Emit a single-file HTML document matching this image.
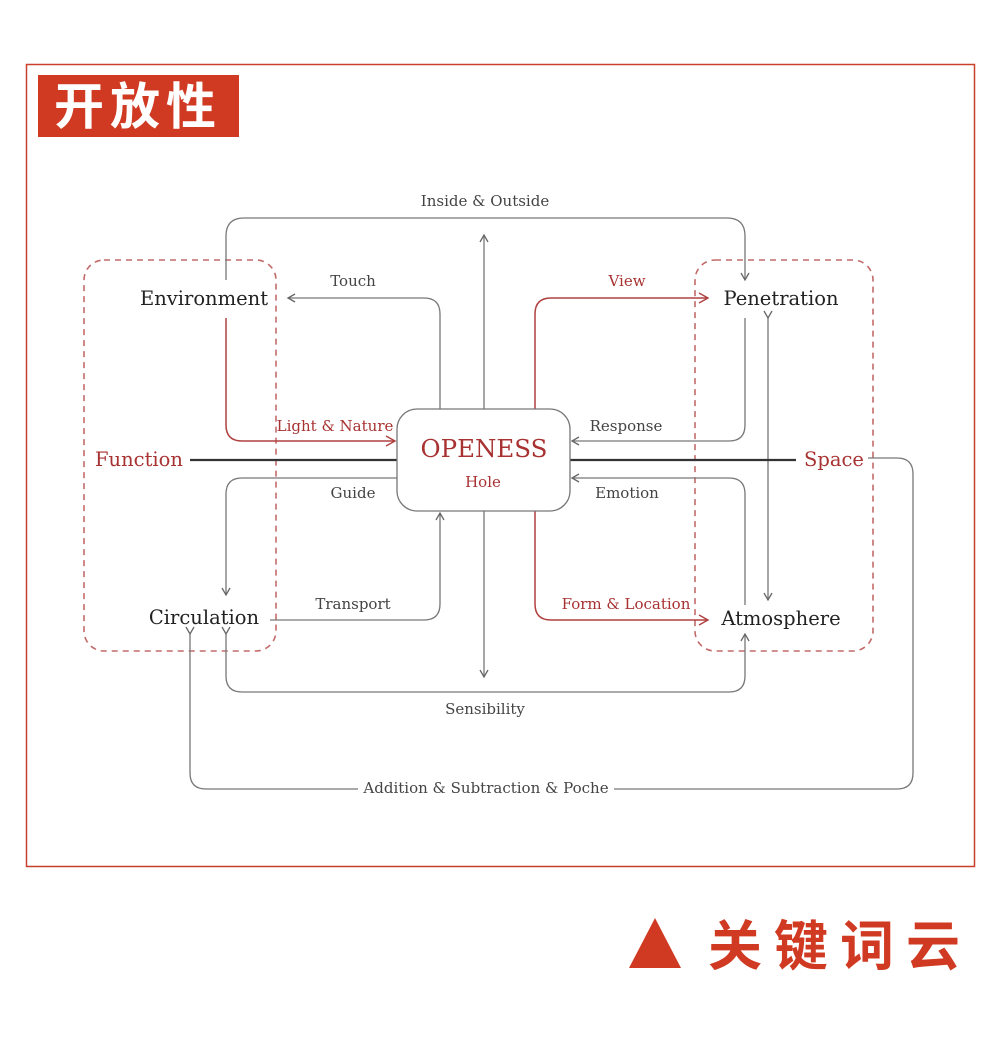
<!DOCTYPE html>
<html><head><meta charset="utf-8"><style>
html,body{margin:0;padding:0;background:#fff;width:1000px;height:1038px;overflow:hidden}
</style></head><body>
<svg width="1000" height="1038" xmlns="http://www.w3.org/2000/svg" font-family="'DejaVu Serif', serif">
<defs>
<marker id="ag" markerWidth="10" markerHeight="10" refX="8" refY="5" orient="auto" markerUnits="userSpaceOnUse"><path d="M1,1 L8,5 L1,9" fill="none" stroke="#666" stroke-width="1.3"/></marker>
<marker id="ar" markerWidth="12" markerHeight="12" refX="10" refY="6" orient="auto" markerUnits="userSpaceOnUse"><path d="M1,1 L10,6 L1,11" fill="none" stroke="#b04040" stroke-width="1.4"/></marker>
</defs>
<rect x="26.5" y="64.5" width="948" height="802" fill="none" stroke="#c8402a" stroke-width="1.5"/>
<rect x="38" y="75" width="201" height="62" fill="#d13a22"/>
<text x="138" y="124" text-anchor="middle" font-family="'Noto Sans CJK SC',sans-serif" font-weight="bold" font-size="50" fill="#fff" letter-spacing="6">开放性</text>
<polygon points="629,968 655,918 681,968" fill="#d13a22"/>
<text x="708" y="965" font-family="'Noto Sans CJK SC',sans-serif" font-weight="bold" font-size="54" fill="#d13a22" letter-spacing="12">关键词云</text>

<g fill="none" stroke="#c26a6a" stroke-width="1.6" stroke-dasharray="6,5">
<rect x="84" y="260" width="192" height="391" rx="20"/>
<rect x="695" y="260" width="178" height="391" rx="20"/>
</g>
<g fill="none" stroke="#777" stroke-width="1.3">
<path d="M226,280 V236 Q226,218 244,218 H727 Q745,218 745,236 V280" marker-end="url(#ag)"/>
<path d="M484,409 V235" marker-end="url(#ag)"/>
<path d="M484,511 V677" marker-end="url(#ag)"/>
<path d="M440,409 V314 Q440,298 424,298 H288" marker-end="url(#ag)"/>
<path d="M397,478 H242 Q226,478 226,494 V595" marker-end="url(#ag)"/>
<path d="M270,620 H424 Q440,620 440,604 V513" marker-end="url(#ag)"/>
<path d="M226,634 V676 Q226,692 242,692 H729 Q745,692 745,676 V634" marker-start="url(#ag)" marker-end="url(#ag)"/>
<path d="M190,634 V773 Q190,789 206,789 H897 Q913,789 913,773 V474 Q913,458 897,458 H868" marker-start="url(#ag)"/>
<path d="M745,318 V425 Q745,441 729,441 H572" marker-end="url(#ag)"/>
<path d="M745,605 V494 Q745,478 729,478 H572" marker-end="url(#ag)"/>
<path d="M768,318 V600" marker-start="url(#ag)" marker-end="url(#ag)"/>
</g>
<g fill="none" stroke="#b04040" stroke-width="1.5">
<path d="M226,318 V425 Q226,441 242,441 H395" marker-end="url(#ar)"/>
<path d="M535,409 V314 Q535,298 551,298 H708" marker-end="url(#ar)"/>
<path d="M535,511 V604 Q535,620 551,620 H708" marker-end="url(#ar)"/>
</g>
<g stroke="#333" stroke-width="2.2">
<line x1="190" y1="460" x2="397" y2="460"/>
<line x1="570" y1="460" x2="796" y2="460"/>
</g>
<rect x="358" y="780" width="256" height="18" fill="#fff"/>
<rect x="397" y="409" width="173" height="102" rx="20" fill="#fff" stroke="#777" stroke-width="1.3"/>
<text x="484" y="457" text-anchor="middle" font-size="24.5" fill="#a83232">OPENESS</text>
<text x="483" y="487" text-anchor="middle" font-size="15" fill="#a83232">Hole</text>

<g font-size="15" fill="#444" text-anchor="middle">
<text x="485" y="206">Inside &amp; Outside</text>
<text x="353" y="286">Touch</text>
<text x="353" y="498">Guide</text>
<text x="353" y="609">Transport</text>
<text x="485" y="714">Sensibility</text>
<text x="486" y="793">Addition &amp; Subtraction &amp; Poche</text>
<text x="626" y="431">Response</text>
<text x="627" y="498">Emotion</text>
</g>
<g font-size="15" fill="#a83232" text-anchor="middle">
<text x="335" y="431">Light &amp; Nature</text>
<text x="627" y="286">View</text>
<text x="626" y="609">Form &amp; Location</text>
</g>
<g font-size="19.5" fill="#222" text-anchor="middle">
<text x="204" y="305">Environment</text>
<text x="204" y="624">Circulation</text>
<text x="781" y="305">Penetration</text>
<text x="781" y="625">Atmosphere</text>
</g>
<g font-size="19.5" fill="#a83232">
<text x="95" y="466">Function</text>
<text x="804" y="466">Space</text>
</g>
</svg>
</body></html>
